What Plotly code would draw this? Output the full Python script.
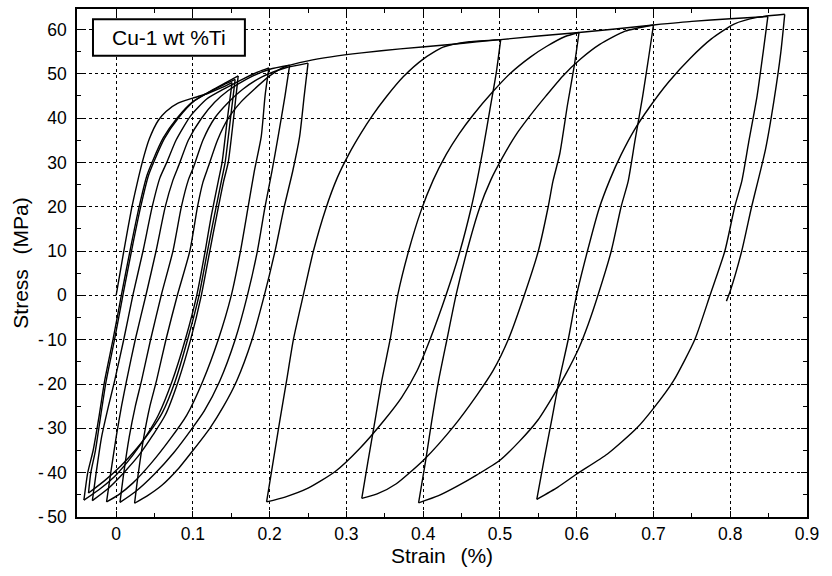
import plotly.graph_objects as go

# ---------------- data: branches of the stress-strain record (strain %, stress MPa) ----------------
load_initial = [(0.000, 0.0), (0.010, 10.0), (0.020, 19.5), (0.027, 25.0), (0.034, 30.0), (0.043, 35.2),
                (0.055, 39.5), (0.065, 41.5), (0.080, 43.3), (0.100, 44.5), (0.120, 45.6),
                (0.138, 46.9), (0.151, 48.0)]

unload_a = [(0.151, 48.0), (0.145, 40.0), (0.138, 30.0), (0.133, 25.7), (0.124, 18.0), (0.116, 10.0),
            (0.105, 0.0), (0.090, -10.0), (0.073, -19.3), (0.055, -27.0), (0.040, -31.5), (0.022, -36.0),
            (0.000, -40.5), (-0.020, -43.5), (-0.042, -46.2)]
reload_1 = [(-0.042, -46.2), (-0.037, -40.0), (-0.030, -35.0), (-0.022, -27.0), (-0.015, -19.3),
            (-0.004, -9.9), (0.007, 0.2), (0.018, 10.0), (0.030, 20.0), (0.040, 27.0), (0.048, 30.5),
            (0.061, 35.4), (0.079, 39.9), (0.100, 43.7), (0.122, 45.9), (0.140, 47.5), (0.155, 48.7)]

unload_b = [(0.155, 48.7), (0.149, 40.0), (0.142, 30.0), (0.137, 25.7), (0.128, 18.0), (0.119, 10.0),
            (0.108, 0.0), (0.093, -10.0), (0.077, -19.3), (0.060, -26.5), (0.045, -30.5), (0.027, -34.5),
            (0.006, -38.5), (-0.015, -41.8), (-0.036, -44.6)]
reload_2 = [(-0.036, -44.6), (-0.033, -40.0), (-0.027, -35.0), (-0.020, -27.0), (-0.013, -19.3),
            (-0.002, -9.9), (0.009, 0.2), (0.020, 10.0), (0.032, 20.0), (0.042, 27.0), (0.050, 30.5),
            (0.063, 35.4), (0.081, 40.0), (0.102, 43.9), (0.124, 46.2), (0.143, 48.0), (0.159, 49.5)]

unload_c = [(0.159, 49.5), (0.153, 40.0), (0.146, 30.0), (0.140, 25.7), (0.131, 18.0), (0.122, 10.0),
            (0.111, 0.0), (0.097, -10.0), (0.081, -19.3), (0.064, -27.0), (0.048, -31.5), (0.030, -36.0),
            (0.010, -40.0), (-0.010, -43.5), (-0.031, -46.3)]
reload_3 = [(-0.031, -46.3), (-0.026, -40.0), (-0.019, -32.0), (-0.010, -25.0), (-0.002, -19.3),
            (0.010, -9.9), (0.022, 0.2), (0.035, 10.0), (0.047, 20.0), (0.057, 26.5), (0.066, 30.0),
            (0.078, 35.0), (0.097, 40.5), (0.118, 44.3), (0.140, 46.5), (0.165, 48.8), (0.185, 50.4),
            (0.199, 51.3)]

unload_d = [(0.199, 51.3), (0.194, 45.0), (0.189, 35.8), (0.180, 28.0), (0.172, 20.0), (0.162, 10.0),
            (0.150, 0.0), (0.133, -10.0), (0.113, -19.3), (0.092, -27.0), (0.070, -32.5), (0.046, -37.8),
            (0.022, -42.3), (0.003, -45.0), (-0.0125, -46.6)]
reload_4 = [(-0.0125, -46.6), (-0.007, -40.0), (0.000, -32.0), (0.007, -25.0), (0.0135, -19.3),
            (0.025, -9.9), (0.039, 0.2), (0.052, 10.0), (0.064, 20.0), (0.074, 26.0), (0.082, 29.5),
            (0.094, 35.0), (0.111, 39.9), (0.128, 43.5), (0.146, 46.2), (0.170, 48.8), (0.200, 51.0),
            (0.226, 51.9)]

unload_e = [(0.226, 51.9), (0.220, 45.0), (0.211, 35.8), (0.203, 28.0), (0.194, 20.0), (0.184, 10.0),
            (0.171, 0.0), (0.155, -10.0), (0.135, -19.3), (0.115, -26.0), (0.099, -30.0), (0.075, -35.5),
            (0.050, -40.3), (0.025, -44.3), (0.005, -46.7)]
reload_5 = [(0.005, -46.7), (0.010, -40.0), (0.017, -32.0), (0.025, -25.0), (0.033, -19.3),
            (0.045, -9.9), (0.059, 0.2), (0.074, 10.0), (0.085, 20.0), (0.094, 26.0), (0.101, 29.0),
            (0.113, 35.0), (0.128, 39.9), (0.146, 43.5), (0.165, 46.5), (0.190, 49.3), (0.220, 51.3),
            (0.250, 52.4)]

unload_f = [(0.250, 52.4), (0.245, 45.0), (0.239, 35.8), (0.230, 28.0), (0.219, 20.0), (0.207, 10.0),
            (0.193, 0.0), (0.177, -10.0), (0.157, -19.3), (0.140, -25.0), (0.122, -30.0), (0.100, -35.0),
            (0.080, -39.3), (0.060, -42.8), (0.040, -45.3), (0.024, -46.9)]
reload_6 = [(0.024, -46.9), (0.029, -40.0), (0.036, -32.0), (0.044, -25.0), (0.0525, -19.3),
            (0.065, -9.9), (0.080, 0.2), (0.096, 10.0), (0.106, 20.0), (0.113, 25.5), (0.120, 29.0),
            (0.132, 35.0), (0.146, 39.9), (0.163, 43.7), (0.180, 46.5), (0.200, 49.5), (0.220, 51.6),
            (0.250, 52.9), (0.280, 53.8), (0.320, 54.7), (0.370, 55.6), (0.435, 56.6), (0.470, 57.2),
            (0.501, 57.7)]

unload_big_1 = [(0.501, 57.7), (0.495, 50.0), (0.487, 42.0), (0.478, 33.0), (0.470, 25.7), (0.463, 20.1),
                (0.448, 10.0), (0.430, 0.2), (0.409, -9.9), (0.392, -17.0), (0.372, -23.0), (0.350, -28.0),
                (0.317, -34.6), (0.285, -39.8), (0.250, -43.5), (0.220, -45.5), (0.196, -46.6)]
reload_big_1 = [(0.196, -46.6), (0.205, -37.0), (0.213, -28.5), (0.222, -19.3), (0.231, -9.9), (0.244, 0.2),
                (0.257, 10.0), (0.273, 19.5), (0.288, 26.5), (0.303, 31.8), (0.318, 36.3), (0.334, 40.6),
                (0.352, 44.8), (0.374, 49.3), (0.400, 53.3), (0.426, 56.0), (0.460, 57.2), (0.501, 57.7)]
envelope_1 = [(0.501, 57.7), (0.550, 58.5), (0.603, 59.3)]

unload_big_2 = [(0.603, 59.3), (0.597, 52.0), (0.588, 43.0), (0.578, 32.0), (0.569, 25.7), (0.563, 20.1),
                (0.550, 10.0), (0.532, 0.2), (0.511, -9.9), (0.491, -17.0), (0.470, -22.5), (0.440, -29.5),
                (0.402, -36.9), (0.365, -42.5), (0.340, -44.8), (0.320, -45.8)]
reload_big_2 = [(0.320, -45.8), (0.328, -37.5), (0.337, -28.5), (0.346, -19.3), (0.357, -9.9), (0.367, 0.2),
                (0.381, 10.0), (0.397, 19.0), (0.413, 26.0), (0.430, 31.8), (0.447, 36.5), (0.465, 40.7),
                (0.490, 45.8), (0.513, 50.0), (0.540, 53.8), (0.561, 56.2), (0.585, 58.4), (0.603, 59.3)]
envelope_2 = [(0.603, 59.3), (0.650, 60.1), (0.700, 61.0)]

unload_big_3 = [(0.700, 61.0), (0.694, 54.0), (0.686, 45.0), (0.676, 35.0), (0.667, 25.7), (0.658, 20.1),
                (0.645, 10.0), (0.628, 0.2), (0.615, -6.5), (0.603, -11.8), (0.585, -18.0), (0.570, -22.5),
                (0.550, -28.0), (0.525, -33.0), (0.500, -37.2), (0.470, -40.5), (0.445, -43.0),
                (0.420, -45.2), (0.394, -46.8)]
reload_big_3 = [(0.394, -46.8), (0.403, -37.5), (0.411, -28.5), (0.420, -19.3), (0.431, -9.9), (0.443, 0.2),
                (0.457, 10.0), (0.473, 19.5), (0.488, 26.0), (0.503, 31.0), (0.520, 36.0), (0.540, 40.7),
                (0.560, 45.0), (0.582, 49.5), (0.605, 53.3), (0.630, 56.6), (0.663, 59.6), (0.700, 61.0)]
envelope_3 = [(0.700, 61.0), (0.750, 61.8), (0.800, 62.4), (0.849, 62.9)]

unload_big_4 = [(0.849, 62.9), (0.843, 55.0), (0.835, 45.0), (0.824, 34.5), (0.815, 25.7), (0.806, 20.1),
                (0.793, 10.0), (0.774, 0.2), (0.754, -9.9), (0.726, -19.3), (0.700, -25.5), (0.678, -30.0),
                (0.640, -35.8), (0.600, -40.3), (0.575, -43.3), (0.548, -46.0)]
reload_big_4 = [(0.548, -46.0), (0.557, -37.5), (0.567, -28.5), (0.577, -19.3), (0.589, -9.9), (0.600, 0.2),
                (0.614, 10.0), (0.629, 19.5), (0.643, 26.0), (0.658, 31.8), (0.675, 37.3), (0.695, 42.5),
                (0.720, 48.2), (0.748, 53.5), (0.775, 57.8), (0.805, 61.2), (0.835, 62.7), (0.871, 63.4)]
unload_final = [(0.871, 63.4), (0.866, 55.0), (0.857, 44.0), (0.846, 33.0), (0.836, 25.7), (0.828, 20.1),
                (0.815, 10.0), (0.800, 1.0), (0.795, -1.3)]

branches = [load_initial, unload_a, reload_1, unload_b, reload_2, unload_c, reload_3,
            unload_d, reload_4, unload_e, reload_5, unload_f, reload_6,
            unload_big_1, reload_big_1, envelope_1, unload_big_2, reload_big_2, envelope_2,
            unload_big_3, reload_big_3, envelope_3, unload_big_4, reload_big_4, unload_final]

x_ticks = [0, 0.1, 0.2, 0.3, 0.4, 0.5, 0.6, 0.7, 0.8, 0.9]
x_labels = ["0", "0.1", "0.2", "0.3", "0.4", "0.5", "0.6", "0.7", "0.8", "0.9"]
y_ticks = [-50, -40, -30, -20, -10, 0, 10, 20, 30, 40, 50, 60]
y_labels = ["-\u200950", "-\u200940", "-\u200930", "-\u200920", "-\u200910", "0",
            "10", "20", "30", "40", "50", "60"]
label_text = "Cu-1 wt %Ti"

# ---------------- figure ----------------
FONT = "Liberation Sans, Arial, Helvetica, sans-serif"
fig = go.Figure()
for br in branches:
    fig.add_trace(go.Scatter(
        x=[p[0] for p in br], y=[p[1] for p in br], mode="lines",
        line=dict(color="black", width=1.4, shape="spline", smoothing=0.6),
        hoverinfo="skip", showlegend=False))

axis_common = dict(
    showline=True, linecolor="black", linewidth=1.6, mirror="allticks",
    ticks="inside", ticklen=6, tickwidth=1.2, tickcolor="black",
    showgrid=True, gridcolor="black", griddash="dot", gridwidth=1.1,
    zeroline=False, tickfont=dict(family=FONT, size=17.5, color="black"),
)

fig.update_layout(
    width=832, height=576,
    margin=dict(l=77, r=25, t=7, b=59),
    paper_bgcolor="white", plot_bgcolor="white",
    font=dict(family=FONT, color="black"),
    xaxis=dict(range=[-0.051, 0.9], tickmode="array", tickvals=x_ticks, ticktext=x_labels,
               minor=dict(dtick=0.05, tick0=0, ticks="inside", ticklen=4, tickcolor="black", showgrid=False),
               title=dict(text="Strain\u2002\u2009(%)", font=dict(family=FONT, size=21, color="black"), standoff=6),
               **axis_common),
    yaxis=dict(range=[-50, 64.6], tickmode="array", tickvals=y_ticks, ticktext=y_labels,
               minor=dict(dtick=5, tick0=0, ticks="inside", ticklen=4, tickcolor="black", showgrid=False),
               ticklabelstandoff=5,
               title=dict(text="Stress\u2002\u2009(MPa)", font=dict(family=FONT, size=21, color="black"), standoff=4),
               **axis_common),
)

fig.add_shape(type="rect", xref="paper", yref="paper", x0=0.0219, x1=0.230, y0=0.908, y1=0.980,
              line=dict(color="black", width=2), fillcolor="white", layer="above")
fig.add_annotation(xref="paper", yref="paper", x=0.126, y=0.944, text=label_text, showarrow=False,
                   font=dict(family=FONT, size=21, color="black"), xanchor="center", yanchor="middle")

fig.write_html("out.html")
